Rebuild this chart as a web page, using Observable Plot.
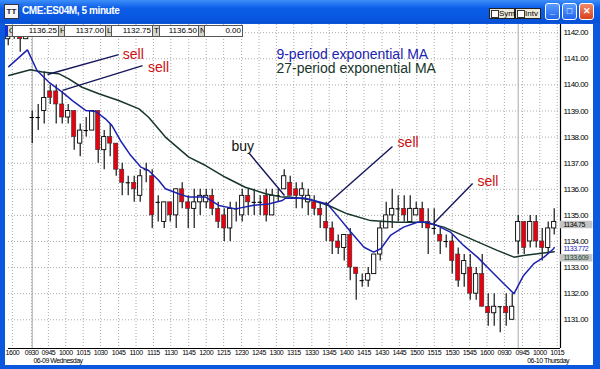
<!DOCTYPE html>
<html><head><meta charset="utf-8">
<script src="https://cdn.jsdelivr.net/npm/d3@7"></script>
<script src="https://cdn.jsdelivr.net/npm/@observablehq/plot@0.6"></script>
<style>
html,body{margin:0;padding:0;}
body{width:600px;height:369px;overflow:hidden;position:relative;background:#0b57de;font-family:"Liberation Sans",Arial,sans-serif;}
#titlebar{position:absolute;left:0;top:0;width:600px;height:23px;background:linear-gradient(#3d8ef8 0%,#0c5ee8 35%,#0856e0 80%,#0a4fd0 100%);}
#title{position:absolute;left:22px;top:5px;color:#fff;font-weight:bold;font-size:10px;letter-spacing:-0.4px;white-space:nowrap;}
#icon{position:absolute;left:4px;top:4px;width:13px;height:13px;background:#f4f4f4;border:1px solid #334;font-size:8px;font-weight:bold;color:#123;line-height:13px;text-align:center;}
.tbtn{position:absolute;top:8px;height:9px;background:#ece9d8;border:1px solid #222;font-size:8px;line-height:9px;color:#000;padding-left:9px;padding-right:1px;}
.tbtn:before{content:"";position:absolute;left:1px;top:1px;width:6px;height:6px;background:#fff;border:1px solid #333;}
.wbtn{position:absolute;top:3px;width:13px;height:15px;border:1px solid #fff;border-radius:3px;background:linear-gradient(#5a9cff,#2266ee);color:#fff;font-size:9px;font-weight:bold;text-align:center;line-height:15px;}
#chart{position:absolute;left:5px;top:24px;width:588px;height:341px;background:#fff;}
.hc{position:absolute;top:25px;height:10px;border:1px solid #555;font-size:8px;line-height:10px;background:#fff;color:#000;text-align:right;padding-right:1px;box-sizing:content-box;}
.hl{background:#d8d5cc;text-align:left;padding-left:1px;}
#chart g[aria-label^="x-axis"] text{letter-spacing:-0.45px;}
#chart g[aria-label^="y-axis"] text{letter-spacing:-0.55px;}
#chart .small text{letter-spacing:-0.5px;}
</style>
</head><body>
<div id="titlebar"><div id="icon">TT</div><div id="title">CME:ES04M, 5 minute</div>
<div class="tbtn" style="left:489px;width:14px">Sym</div>
<div class="tbtn" style="left:515px;width:14px">Intv</div>
<div class="wbtn" style="left:545px">_</div>
<div class="wbtn" style="left:562px">&#9633;</div>
<div class="wbtn" style="left:579px;background:linear-gradient(#f08a6a,#d8401c)">&#10005;</div>
</div>
<div id="chart"></div>
<div id="header"></div>
<script>
// ---- data ----
const firstBar = -4; // bar index of first bar (prior day 16:00)
const opens  = [1141.75,1142,1142,1141.75, 1138.75,1138.75,1139,1139.75,1139.75,1139.25,1138.75,1139,1137.75,1138.25,1138.25,1139,1137.5,1138,1137.75,1136.75,1136.25,1136.25,1135.75,1136.75,1136.5,1135.5,1134.75,1135.5,1135,1136,1135.5,1135.25,1135.5,1135.5,1135.75,1135.25,1135,1134.5,1135.25,1135,1135.75,1135.5,1135.5,1135.75,1135,1135.75,1136,1136.25,1136,1135.75,1135.5,1135.5,1135.25,1134.75,1134.5,1134,1133.75,1134.25,1133,1132.5,1132.5,1132.75,1133.5,1134.5,1135,1135.25,1135.25,1134.75,1135,1135.25,1134.75,1134.5,1134.25,1134,1134,1133.5,1132.75,1133,1132,1132.75,1131.5,1131.25,1131.5,1131.5,1131, 1134,1134.75,1134,1134.75,1134,1133.75,1134.5];
const highs  = [1142.25,1142.25,1142.25,1142.25, 1139,1139.25,1140.5,1140,1140,1139.75,1139.25,1139,1138.5,1138.75,1139,1139,1138.25,1138.5,1137.75,1137,1136.5,1136.5,1136.75,1137,1136.75,1135.75,1135.5,1135.5,1136,1136.25,1135.75,1136,1136,1136,1136,1135.5,1135.25,1135.5,1135.5,1136,1136,1136,1135.75,1136,1136,1136,1136.75,1136.5,1136.25,1136.25,1136,1135.75,1135.5,1135.5,1134.75,1134.25,1134.25,1134.5,1133,1132.75,1133,1133.5,1134.75,1135.5,1136,1135.75,1135.75,1135.75,1135.5,1135.5,1135.25,1135.25,1134.5,1134.25,1134.25,1133.75,1133.5,1133.5,1133,1133.5,1132,1132,1131.5,1132,1132, 1135,1134.75,1135,1135,1134.5,1134.75,1135.25];
const lows   = [1141.5,1141.75,1141.25,1141.75, 1137.75,1138.25,1138.5,1139.25,1138.5,1138.5,1138.5,1137.5,1137.25,1138,1138.25,1137,1136.75,1137.25,1136.5,1135.75,1135.75,1135.5,1135.5,1136.25,1134.5,1134.75,1134.5,1134.75,1134.5,1135.25,1134.5,1134.5,1135,1135.25,1135,1134.5,1134,1134,1134.75,1134.75,1135,1135,1135,1134.75,1135,1135.5,1136,1135.75,1135.25,1135.25,1135,1135,1134.5,1134,1133.5,1133.5,1133.25,1132.5,1131.75,1132.25,1132.25,1132.75,1133.25,1134.5,1134.5,1134.75,1134.75,1134.75,1135,1134.5,1133.5,1134.25,1133.5,1133.75,1132.75,1132.25,1132.25,1131.75,1131.75,1131.5,1130.75,1130.75,1130.5,1130.75,1131, 1133.5,1133.5,1133.75,1133.75,1133.25,1133.5,1134.25];
const closes = [1142,1142,1141.75,1142, 1138.75,1138.75,1139.5,1139.5,1139.25,1138.75,1139,1138,1138.25,1138.25,1139,1137.5,1138,1137.75,1136.75,1136.25,1136.25,1136,1136.5,1136.75,1135,1135.5,1135.5,1135,1136,1135.5,1135.25,1135.5,1135.75,1135.75,1135.25,1134.75,1134.5,1135.25,1135.25,1135.75,1135.5,1135.5,1135.5,1135,1135.75,1135.75,1136.5,1135.75,1135.75,1136,1135.75,1135.25,1135,1134.5,1134,1133.75,1134.25,1133,1132.75,1132.5,1132.75,1133.5,1134.5,1135,1135.25,1135.25,1135,1135.25,1135.25,1134.75,1134.5,1134.5,1134,1134,1133.25,1132.5,1133.25,1132,1132.75,1131.5,1131.25,1131.5,1131.5,1131.25,1131.5, 1134.75,1133.75,1134.75,1134,1133.75,1134.5,1134.75];

// 9-period EMA (blue): bar position / price
const emaFastK = [-3.9,-0.8,0.8,2.8,5,6.7,8.9,10.6,12.2,13.3,14.7,16.4,18.1,19.4,21.1,22.2,24.4,26.1,28.9,31.1,33.9,36.7,39.4,41.7,42.2,45.3,46.9,49.2,50.8,53.1,55.3,56.9,58.1,59.7,61.9,64.2,65.8,67.5,69.7,71.9,74.2,76.4,78.6,80.3,81.9,83.6,85.3,86.9,87];
const emaFastV = [1140.70,1141.34,1140.55,1140.10,1139.72,1139.40,1139.02,1138.98,1138.70,1138.44,1137.87,1137.30,1136.85,1136.72,1136.34,1136.02,1135.83,1135.70,1135.70,1135.38,1135.25,1135.38,1135.44,1135.57,1135.66,1135.67,1135.57,1135.44,1135.00,1134.36,1133.78,1133.59,1133.72,1134.23,1134.55,1134.74,1134.74,1134.61,1134.36,1133.85,1133.40,1132.89,1132.38,1132.00,1132.70,1133.15,1133.40,1133.72,1133.772];
// 27-period EMA (dark green)
const emaSlowK = [-3.9,-0.3,1.7,4.4,6.1,8.3,11.1,14.4,17.8,19.4,22.2,26.1,28.9,32.2,35.5,38.9,41.7,43.1,46.4,49.4,52.5,56.4,60.8,65.3,68.6,73.1,77.5,80.3,81.9,84.2,87];
const emaSlowV = [1140.36,1140.58,1140.49,1140.43,1140.23,1139.91,1139.66,1139.40,1139.08,1138.76,1138.00,1137.23,1136.91,1136.46,1136.08,1135.83,1135.70,1135.70,1135.60,1135.38,1135.06,1134.80,1134.74,1134.74,1134.55,1134.10,1133.66,1133.40,1133.46,1133.53,1133.609];

// x axis labels and their bar positions
const tickLabels = ["1600","0930","0945","1000","1015","1030","1045","1100","1115","1130","1145","1200","1215","1230","1245","1300","1315","1330","1345","1400","1415","1430","1445","1500","1515","1530","1545","1600","0930","0945","1000","1015"];
const tickK = [-3.3,-0.1,2.7,5.6,8.5,11.4,14.4,17.3,20.2,23.1,26.1,29.0,31.9,34.9,37.8,40.7,43.6,46.6,49.5,52.4,55.3,58.3,61.2,64.1,67.0,70.0,72.9,75.8,78.7,81.7,84.6,87.5];
const dayStarts = [0, 81];
const dayLabels = ["06-09 Wednesday", "06-10 Thursday"];
const dayLabelK = [0.2, 82.5];
const priceTicks = [1131,1132,1133,1134,1135,1136,1137,1138,1139,1140,1141,1142];

// annotations
const annText = ["sell","sell","buy","sell","sell"];
const annX0 = [2.55, 5.05, 36.2, 49.2, 66.9];
const annY0 = [1140.40, 1139.79, 1137.37, 1135.44, 1134.69];
const annX1 = [14.4, 18.4, 42.05, 60.05, 73.4];
const annY1 = [1141.16, 1140.74, 1135.76, 1137.64, 1136.22];
const annTextK = [15.1, 19.3, 33.2, 60.9, 74.2];
const annTextP = [1141.18, 1140.66, 1137.64, 1137.81, 1136.28];
const legendText = ["9-period exponential MA", "27-period exponential MA"];
const legendK = [40.7, 40.7];
const legendP = [1141.18, 1140.61];

// right-axis value flags
const flagText = ["1134.75", "1133.772", "1133.609"];
const flagVal = [1134.75, 1133.772, 1133.609];

// header
const headerLabels = ["O","H","L","T","N"];
const headerValues = ["1136.25","1137.00","1132.75","1136.50","0.00"];

// ---- build ----
const bars = opens.map((o,i)=>({k: firstBar+i, open:o, high:highs[i], low:lows[i], close:closes[i]}));
const fast = emaFastK.map((k,i)=>({k, v: emaFastV[i]}));
const slow = emaSlowK.map((k,i)=>({k, v: emaSlowV[i]}));
const ann = annText.map((t,i)=>({t, x0:annX0[i], y0:annY0[i], x1:annX1[i], y1:annY1[i], tk:annTextK[i], tp:annTextP[i]}));
const legend = legendText.map((t,i)=>({t, k:legendK[i], p:legendP[i]}));
const tickMap = new Map(tickK.map((k,i)=>[k, tickLabels[i]]));
const xDom = [-3.95, 88.05], yDom = [1129.9, 1142.314];
const RED = "#e80010", BLUE = "#1c22b0", GREEN = "#17362a", NAVY = "#15155a";
const narrow = "'Liberation Sans',Arial,sans-serif";
const hw = 0.35;
const dojis = bars.filter(d=>d.open===d.close);
const ups = bars.filter(d=>d.close>d.open);
const downs = bars.filter(d=>d.close<d.open);
const flagFill = ["#000", BLUE, "#1e4a3a"];
const flagBg = ["#c4c4c4", null, "#c4c4c4"];
const flagDy = [2.5, 1.5, 6];
const flagMarks = flagText.flatMap((t,i)=>[
  ...(flagBg[i] ? [Plot.ruleY([flagVal[i]], {x1: xDom[1], x2: xDom[1]+5.4, dy: flagDy[i], stroke: flagBg[i], strokeWidth: 7.5})] : []),
  Plot.text([t], {x: xDom[1], y: flagVal[i], text: d=>d, dx: 3, dy: flagDy[i], textAnchor: "start", fill: flagFill[i], fontSize: 7, className: "small"})
]);

const chart = Plot.plot({
  width: 588, height: 341,
  marginLeft: 3, marginRight: 33, marginTop: 0, marginBottom: 17,
  style: {fontFamily: narrow, fontSize: "8px", background: "#fff", overflow: "visible"},
  x: {domain: xDom},
  y: {domain: yDom},
  marks: [
    Plot.gridY(priceTicks, {stroke: "#aaa", strokeOpacity: 1, strokeDasharray: "1,2"}),
    Plot.gridX(tickK, {stroke: "#aaa", strokeOpacity: 1, strokeDasharray: "1,2"}),
    Plot.ruleX(dayStarts, {stroke: "#a8a8a8", strokeWidth: 1}),
    Plot.ruleX(bars, {x: "k", y1: "low", y2: "high", stroke: "#000", strokeWidth: 1.1}),
    Plot.rect(ups, {x1: d=>d.k-hw, x2: d=>d.k+hw, y1: "open", y2: "close", fill: "#fff", stroke: "#000", strokeWidth: 0.9}),
    Plot.rect(downs, {x1: d=>d.k-hw, x2: d=>d.k+hw, y1: "open", y2: "close", fill: RED, stroke: "#333", strokeWidth: 0.6}),
    Plot.ruleY(dojis, {y: "open", x1: d=>d.k-hw, x2: d=>d.k+hw, stroke: "#000", strokeWidth: 1.1}),
    Plot.line(slow, {x: "k", y: "v", stroke: GREEN, strokeWidth: 1.5}),
    Plot.line(fast, {x: "k", y: "v", stroke: BLUE, strokeWidth: 1.5}),
    Plot.link(ann, {x1: "x0", y1: "y0", x2: "x1", y2: "y1", stroke: NAVY, strokeWidth: 1.4}),
    Plot.text(ann, {x: "tk", y: "tp", text: "t", fill: d=>d.t==="buy"?"#111":"#cc1010", textAnchor: "start", fontSize: 14, fontFamily: "'Liberation Sans',Arial,sans-serif"}),
    Plot.text(legend, {x: "k", y: "p", text: "t", fill: (d,i)=>i===0?BLUE:GREEN, textAnchor: "start", fontSize: 14, fontFamily: "'Liberation Sans',Arial,sans-serif"}),
    Plot.ruleY([yDom[0]], {stroke: "#000", strokeWidth: 1}),
    Plot.ruleX([xDom[1]], {stroke: "#000", strokeWidth: 1.2}),
    Plot.axisY(priceTicks, {anchor: "right", tickSize: 0, tickPadding: 3, tickFormat: d=>d.toFixed(2), fill: "#000", fontSize: 8}),
    Plot.axisX(tickK, {anchor: "bottom", tickSize: 0, tickPadding: 2, tickFormat: d=>tickMap.get(d), fill: "#000", fontSize: 7}),
    Plot.text(dayLabels.map((t,i)=>({t, k: dayLabelK[i]})), {x: "k", text: "t", frameAnchor: "bottom", dy: 12.5, textAnchor: "start", lineAnchor: "middle", fill: "#000", fontSize: 7, className: "small"}),
    ...flagMarks
  ]
});
document.getElementById("chart").appendChild(chart);

// header row (text cells)
const hdr = document.getElementById("header");
const cellPos = [[5,6,12,44],[58,5,64,39],[105,5,111,39],[152,6,159,37],[198,5,204,36]];
headerLabels.forEach((lab,i)=>{
  const [lx,lw,vx,vw] = cellPos[i];
  const a = document.createElement("div"); a.className="hc hl"; a.style.left=lx+"px"; a.style.width=lw+"px"; a.textContent=lab;
  if(i===0){a.style.borderLeft="3px solid #1030d0";}
  const b = document.createElement("div"); b.className="hc"; b.style.left=vx+"px"; b.style.width=vw+"px"; b.textContent=headerValues[i];
  hdr.appendChild(a); hdr.appendChild(b);
});
</script>
</body></html>
